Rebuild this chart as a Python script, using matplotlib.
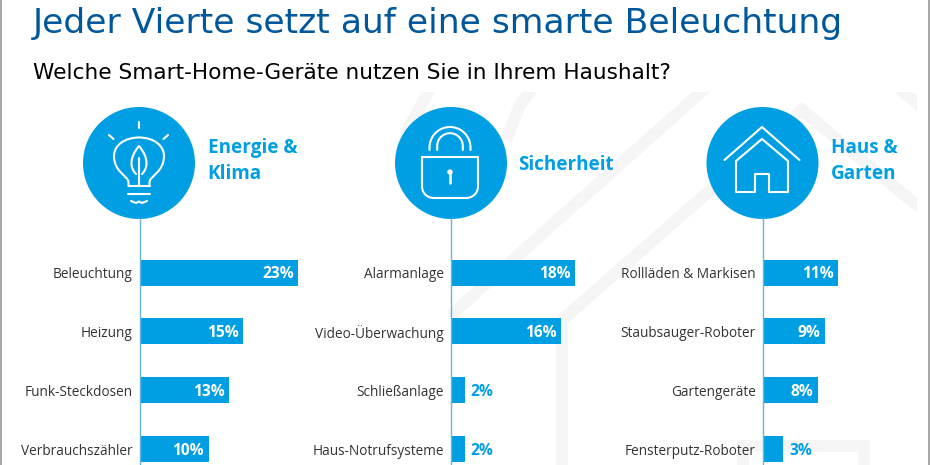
import numpy as np
import matplotlib
matplotlib.use('Agg')
import matplotlib.pyplot as plt
from matplotlib.patches import Circle, PathPatch, Rectangle
from matplotlib.path import Path

title = 'Jeder Vierte setzt auf eine smarte Beleuchtung'
subtitle = 'Welche Smart-Home-Geräte nutzen Sie in Ihrem Haushalt?'

energie_labels = ['Beleuchtung', 'Heizung', 'Funk-Steckdosen', 'Verbrauchszähler']
energie_values = [23, 15, 13, 10]
sicherheit_labels = ['Alarmanlage', 'Video-Überwachung', 'Schließanlage', 'Haus-Notrufsysteme']
sicherheit_values = [18, 16, 2, 2]
haus_labels = ['Rollläden & Markisen', 'Staubsauger-Roboter', 'Gartengeräte', 'Fensterputz-Roboter']
haus_values = [11, 9, 8, 3]

BLUE = '#009fe3'
DARK = '#00589c'
AXIS = '#62b5e5'
WM = '#f5f5f5'
W, H = 930, 465
PX_PER_PCT = 6.9

fig = plt.figure(figsize=(9.3, 4.65), dpi=100, facecolor='white')

# Hintergrund und Icons in Pixelkoordinaten
bg = fig.add_axes([0, 0, 1, 1], zorder=0)
bg.set_xlim(0, W)
bg.set_ylim(H, 0)
bg.axis('off')

clip = Rectangle((0, 92), 917, 373, transform=bg.transData)
def wm_line(xs, ys, lw=8.5):
    l, = bg.plot(xs, ys, color=WM, lw=lw, solid_joinstyle='miter', solid_capstyle='butt', zorder=1)
    l.set_clip_path(clip)

wm_line([709, 451], [85, 315])
wm_line([562, 562, 802, 925], [470, 320, 110, 212])
wm_line([895, 925], [85, 110])
wm_line([432, 405], [85, 135])
wm_line([535, 520, 506], [85, 105, 140])
wm_line([743, 743, 864, 864], [470, 446, 446, 470])

for x in (0.5, 928.5):
    bg.plot([x, x], [0, H], color='#a6a6a6', lw=1.4, zorder=1)

bg.text(33, 32.5, title, fontsize=24.8, color=DARK, family='DejaVu Sans', ha='left', va='baseline')
bg.text(33, 79, subtitle, fontsize=15.6, color='black', family='DejaVu Sans', ha='left', va='baseline')

def icon_line(xs, ys, lw=1.5):
    bg.plot(xs, ys, color='white', lw=lw, solid_capstyle='round', solid_joinstyle='round', zorder=4)

def icon_curve(verts, codes):
    bg.add_patch(PathPatch(Path(verts, codes), fc='none', ec='white', lw=1.5, capstyle='round',
                           joinstyle='round', zorder=4))

centers = [139, 451, 762.5]
cy = 163
for cx in centers:
    bg.add_patch(Circle((cx, cy), 56, fc=BLUE, ec='none', zorder=3))

M, L, C = Path.MOVETO, Path.LINETO, Path.CURVE4

# Glühbirne
cx = 139
icon_curve([(cx - 10.5, 186), (cx - 10.5, 182),
            (cx - 11, 176), (cx - 25, 172), (cx - 25, 156),
            (cx - 25, 145), (cx - 14, 137.5), (cx, 137.5),
            (cx + 14, 137.5), (cx + 25, 145), (cx + 25, 156),
            (cx + 25, 172), (cx + 11, 176), (cx + 10.5, 182),
            (cx + 10.5, 186)],
           [M, L] + [C] * 12 + [L])
icon_line([cx - 10.5, cx + 10.5], [186, 186])
icon_line([cx - 11, cx + 11], [194, 194])
icon_line([cx - 8, cx - 3, cx, cx + 3, cx + 8], [201, 203, 201.5, 203, 201])
icon_line([cx, cx], [158, 186])
icon_curve([(cx - 3, 174), (cx - 9, 168), (cx - 10, 158), (cx, 146), (cx + 10, 158), (cx + 9, 168), (cx + 3, 174)],
           [M, C, C, C, C, C, C])
icon_line([cx, cx], [122, 128])
icon_line([cx - 30, cx - 25.5], [135, 139])
icon_line([cx + 29, cx + 24.5], [135, 139])

# Schloss
cx = 450
icon_curve([(cx - 28, 157), (cx + 28, 157), (cx + 28, 186), (cx + 28, 194), (cx + 22, 198), (cx + 16, 198),
            (cx - 16, 198), (cx - 22, 198), (cx - 28, 194), (cx - 28, 186), (cx - 28, 157)],
           [M, L, L, C, C, C, L, C, C, C, L])
t = np.radians(np.linspace(180, 360, 50))
icon_line(np.r_[cx - 20.5, cx + 20.5 * np.cos(t), cx + 20.5], np.r_[150, 147.5 + 20.5 * np.sin(t), 150])
icon_line(np.r_[cx - 12.8, cx + 12.8 * np.cos(t), cx + 12.8], np.r_[150, 146 + 12.8 * np.sin(t), 150])
bg.add_patch(Circle((cx, 172), 2.7, fc='white', ec='none', zorder=4))
icon_line([cx, cx], [173, 183], lw=1.8)

# Haus
cx = 762
icon_line([cx - 37.5, cx, cx + 37.5], [160, 127, 160])
icon_line([cx - 26, cx - 26, cx - 7, cx - 7, cx + 7, cx + 7, cx + 26, cx + 26, cx, cx - 26],
          [161, 192, 192, 174, 174, 192, 192, 161, 139, 161])

# Überschriften der Gruppen
heads = [(207.5, ['Energie &', 'Klima']), (518.5, ['Sicherheit']), (830.5, ['Haus &', 'Garten'])]
for x, lines in heads:
    ys = [147.5, 173.5] if len(lines) == 2 else [164.5]
    for y, s in zip(ys, lines):
        bg.text(x, y, s, fontsize=13.6, color=BLUE, family='Open Sans', weight='bold',
                ha='left', va='center')

def panel(left, labels, values):
    ax = fig.add_axes([left / W, 0, 175 / W, 247 / H], zorder=2)
    ax.patch.set_alpha(0)
    ax.barh(range(len(values)), values, height=26 / 58.8, color=BLUE)
    ax.set_xlim(0, 175 / PX_PER_PCT)
    ax.set_ylim(3.27, -0.927)
    for s in ('top', 'right', 'bottom'):
        ax.spines[s].set_visible(False)
    ax.spines['left'].set_color(AXIS)
    ax.spines['left'].set_linewidth(1)
    ax.set_xticks([])
    ax.set_yticks(range(len(labels)), labels, fontsize=9.8, color='#333333', family='Open Sans')
    ax.tick_params(axis='y', length=0, pad=5)
    for i, v in enumerate(values):
        if v >= 5:
            ax.text(v - 0.65, i + 0.03, f'{v}%', color='white', fontsize=11.2, family='Open Sans',
                    weight='bold', ha='right', va='center')
        else:
            ax.text(v + 0.85, i + 0.03, f'{v}%', color=BLUE, fontsize=11.2, family='Open Sans',
                    weight='bold', ha='left', va='center')

panel(139.5, energie_labels, energie_values)
panel(451, sicherheit_labels, sicherheit_values)
panel(762.5, haus_labels, haus_values)

fig.savefig('out.png', dpi=100)
